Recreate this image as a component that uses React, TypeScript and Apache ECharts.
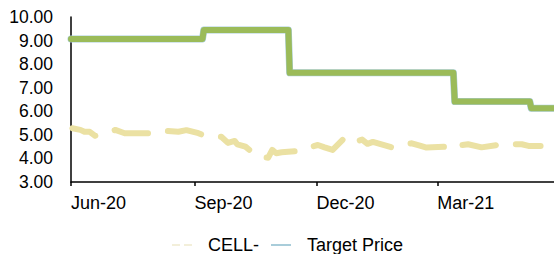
import React, { useEffect, useRef } from "react";
import * as echarts from "echarts";

// Axis range and tick labels
const xStart = "2020-06-01";
const xEnd = "2021-05-27";
const tickDates = ["2020-06-01", "2020-09-01", "2020-12-01", "2021-03-01"];
const tickLabels = ["Jun-20", "Sep-20", "Dec-20", "Mar-21"];
const yMin = 3;
const yMax = 10;
const yStep = 1;

// CELL- price series
const cellDates = [
  "2020-06-02", "2020-06-08", "2020-06-11", "2020-06-15", "2020-06-19",
  "2020-07-04", "2020-07-11", "2020-07-28", "2020-08-12", "2020-08-20",
  "2020-08-26", "2020-09-04", "2020-09-07", "2020-09-21", "2020-09-26",
  "2020-10-01", "2020-10-03", "2020-10-09", "2020-10-18", "2020-10-26",
  "2020-10-29", "2020-11-01", "2020-11-05", "2020-11-19", "2020-11-25",
  "2020-12-02", "2020-12-07", "2020-12-13", "2020-12-22", "2020-12-30",
  "2020-12-31", "2021-01-04", "2021-01-08", "2021-01-12", "2021-01-26",
  "2021-02-03", "2021-02-10", "2021-02-16", "2021-02-21", "2021-03-08",
  "2021-03-12", "2021-03-16", "2021-03-24", "2021-04-03", "2021-04-18",
  "2021-05-03", "2021-05-08", "2021-05-17",
];
const cellValues = [
  5.28, 5.21, 5.13, 5.13, 4.96,
  5.21, 5.07, 5.07, 5.16, 5.13,
  5.2, 5.07, 5.0, 4.92, 4.66,
  4.74, 4.6, 4.5, 4.07, 4.03,
  4.36, 4.22, 4.26, 4.32, 4.46,
  4.57, 4.47, 4.36, 4.88, 4.85,
  4.73, 4.8, 4.62, 4.7, 4.47,
  4.6, 4.64, 4.54, 4.46, 4.5,
  4.4, 4.54, 4.6, 4.47, 4.6,
  4.6, 4.53, 4.53,
];

// Target price (step changes)
const targetDates = [
  "2020-06-01", "2020-09-07", "2020-09-08", "2020-11-10", "2020-11-11",
  "2021-03-13", "2021-03-14", "2021-05-09", "2021-05-10", "2021-05-27",
];
const targetValues = [9.07, 9.07, 9.45, 9.45, 7.63, 7.63, 6.41, 6.41, 6.13, 6.13];

// days since xStart
const dayOf = (s: string) => {
  const [y, m, d] = s.split("-").map(Number);
  const [y0, m0, d0] = xStart.split("-").map(Number);
  return Math.round((Date.UTC(y, m - 1, d) - Date.UTC(y0, m0 - 1, d0)) / 86400000);
};

const FONT = "'Liberation Sans', Arial, sans-serif";

export default function App() {
  const ref = useRef<HTMLDivElement>(null);

  useEffect(() => {
    if (!ref.current) return;
    const chart = echarts.init(ref.current, undefined, { renderer: "svg" });
    const cellData = cellDates.map((d, i) => [dayOf(d), cellValues[i]]);
    const targetData = targetDates.map((d, i) => [dayOf(d), targetValues[i]]);
    const ticks = tickDates.map(dayOf);

    chart.setOption({
      animation: false,
      backgroundColor: "#ffffff",
      textStyle: { fontFamily: FONT },
      grid: { left: 71, right: 0, top: 17, bottom: 72, outerBoundsMode: "none" },
      xAxis: {
        type: "value",
        min: 0,
        max: dayOf(xEnd),
        splitLine: { show: false },
        axisLine: { show: true, lineStyle: { color: "#000", width: 1.5 } },
        axisTick: { show: true, length: 4, customValues: ticks, lineStyle: { color: "#000", width: 1.5 } },
        axisLabel: {
          customValues: ticks,
          align: "left",
          margin: 12,
          color: "#000",
          fontSize: 18,
          fontFamily: FONT,
          formatter: (v: number) => {
            const i = ticks.indexOf(Math.round(v));
            return i >= 0 ? tickLabels[i] : "";
          },
        },
      },
      yAxis: {
        type: "value",
        min: yMin,
        max: yMax,
        interval: yStep,
        splitLine: { show: false },
        axisLine: { show: true, lineStyle: { color: "#000", width: 1.5 } },
        axisTick: { show: false },
        axisLabel: {
          margin: 18,
          color: "#000",
          fontSize: 17.5,
          fontFamily: FONT,
          formatter: (v: number) => v.toFixed(2),
        },
      },
      legend: {
        left: 167,
        top: 231,
        itemWidth: 20,
        itemHeight: 14,
        itemGap: 12,
        symbolKeepAspect: true,
        textStyle: { fontSize: 18, color: "#000", fontFamily: FONT, padding: [0, 0, 0, 11] },
        data: [
          {
            name: "CELL-",
            icon: "path://M0,0h8v2h-8zM12,0h8v2h-8z",
            itemStyle: { color: "#f3efda" },
          },
          {
            name: "Target Price",
            icon: "path://M0,0h20v2h-20z",
            itemStyle: { color: "#a9cdda" },
          },
        ],
      },
      series: [
        {
          name: "CELL-",
          type: "line",
          data: cellData,
          showSymbol: false,
          symbol: "none",
          lineStyle: { color: "#ebe1a3", width: 6, type: [34, 20], dashOffset: 9, cap: "round", join: "round" },
          itemStyle: { color: "#ebe1a3" },
          z: 2,
        },
        {
          name: "Target Price",
          type: "line",
          data: targetData,
          showSymbol: false,
          symbol: "none",
          lineStyle: { color: "#a9cdda", width: 7, cap: "round", join: "round" },
          itemStyle: { color: "#a9cdda" },
          z: 3,
        },
        {
          name: "Target",
          type: "line",
          data: targetData,
          showSymbol: false,
          symbol: "none",
          lineStyle: { color: "#9bbb59", width: 6, cap: "round", join: "round" },
          itemStyle: { color: "#9bbb59" },
          z: 4,
        },
      ],
    });

    return () => chart.dispose();
  }, []);

  return (
    <div
      ref={ref}
      style={{ position: "fixed", left: 0, top: 0, width: 554, height: 254, background: "#fff" }}
    />
  );
}
